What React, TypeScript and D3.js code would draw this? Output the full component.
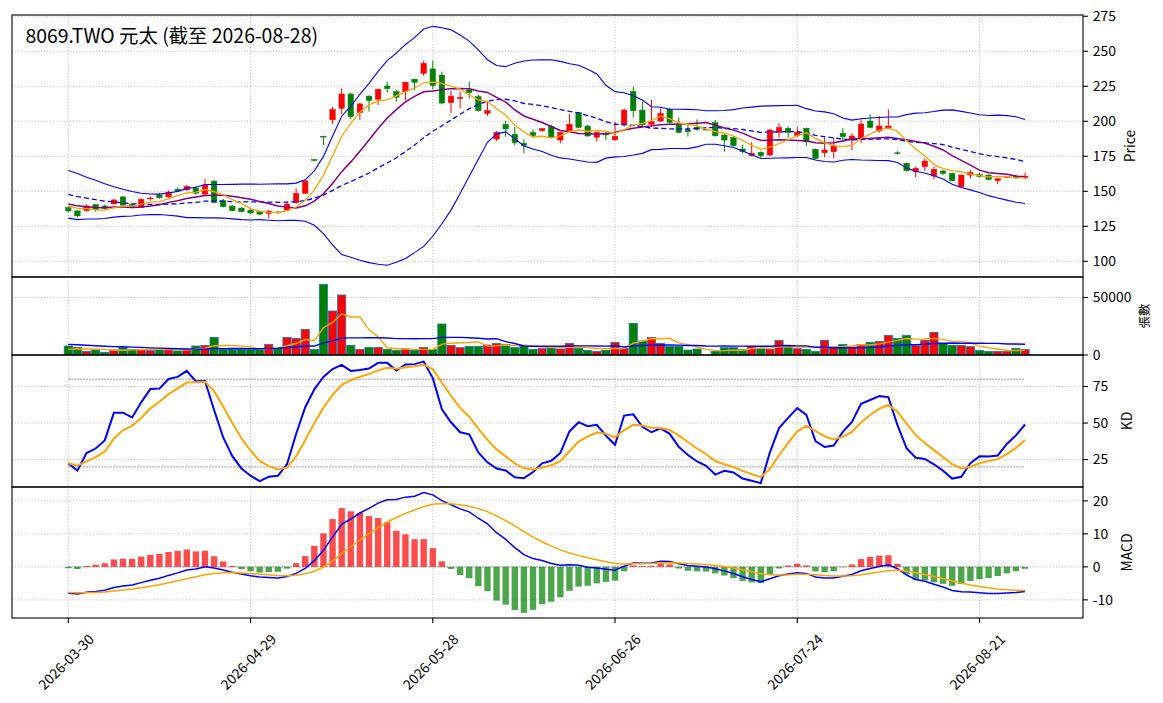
import React from "react";
import * as d3 from "d3";

// ---------- data ----------
const tickIndex = [0, 20, 40, 60, 80, 100];
const tickDates = ["2026-03-30", "2026-04-29", "2026-05-28", "2026-06-26", "2026-07-24", "2026-08-21"];

const opens = [
  138.3, 136.0, 136.2, 140.5, 139.5, 141.0, 146.0, 140.7, 138.5, 144.8,
  147.3, 146.0, 151.4, 151.0, 152.3, 148.0, 157.3, 143.3, 139.5, 138.0,
  136.5, 135.5, 134.3, 135.2, 136.6, 142.0, 148.6, 172.6, 189.3, 201.0,
  209.3, 219.5, 206.2, 218.0, 215.7, 225.2, 221.2, 221.2, 230.0, 234.3,
  237.4, 233.0, 213.3, 216.3, 222.4, 217.6, 205.7, 187.3, 197.8, 190.7,
  184.3, 192.0, 193.3, 196.2, 186.6, 193.3, 206.2, 196.6, 188.6, 191.4,
  186.8, 197.4, 221.2, 208.0, 197.8, 200.2, 208.5, 197.8, 193.8, 195.7,
  194.3, 199.0, 190.2, 188.3, 180.2, 175.6, 177.8, 175.9, 192.1, 195.0,
  189.7, 195.0, 180.0, 177.6, 178.3, 191.4, 186.6, 187.8, 200.2, 193.1,
  195.0, 177.5, 170.0, 164.0, 167.6, 160.9, 164.5, 162.8, 153.3, 161.6,
  162.0, 161.6, 157.6, 160.2, 160.9, 159.7,
];
const highs = [
  139.5, 136.5, 140.7, 141.0, 140.5, 144.5, 146.5, 141.5, 145.2, 146.4,
  149.0, 150.5, 152.8, 154.5, 153.7, 158.8, 158.0, 144.7, 140.0, 138.8,
  138.3, 136.0, 136.5, 136.0, 142.6, 152.1, 158.1, 173.2, 189.8, 210.4,
  223.5, 220.5, 213.3, 218.5, 223.3, 228.3, 222.5, 228.3, 230.5, 243.3,
  243.3, 235.5, 221.6, 221.2, 228.3, 218.8, 214.0, 193.0, 200.5, 196.0,
  187.1, 194.2, 195.2, 197.4, 192.5, 205.2, 206.5, 197.5, 192.5, 192.5,
  199.5, 209.2, 224.7, 214.0, 215.2, 209.3, 209.7, 202.6, 197.4, 201.4,
  194.3, 201.0, 190.8, 189.5, 183.0, 185.0, 178.5, 194.5, 198.6, 196.2,
  196.2, 195.5, 180.5, 188.5, 188.5, 195.0, 191.4, 201.4, 205.0, 203.8,
  208.5, 178.5, 170.5, 167.6, 173.5, 167.6, 165.2, 163.5, 161.8, 165.2,
  163.3, 162.0, 159.5, 161.0, 161.9, 163.3,
];
const lows = [
  135.0, 131.3, 135.5, 135.4, 136.8, 140.5, 139.5, 138.0, 138.0, 143.3,
  144.7, 145.5, 149.5, 150.5, 147.6, 147.5, 141.5, 138.5, 135.8, 135.0,
  133.5, 133.0, 130.5, 134.0, 136.0, 141.0, 148.0, 171.8, 183.0, 198.0,
  205.2, 201.6, 201.0, 206.9, 211.6, 220.5, 214.0, 215.2, 222.4, 232.6,
  222.8, 212.0, 205.7, 209.3, 216.4, 206.9, 203.8, 186.0, 189.0, 183.0,
  177.1, 188.5, 192.5, 187.8, 184.3, 192.5, 195.0, 189.0, 185.5, 186.6,
  186.0, 196.2, 202.6, 196.0, 196.2, 199.5, 198.5, 191.5, 189.0, 193.0,
  194.3, 189.0, 178.3, 182.0, 177.1, 175.0, 174.0, 175.0, 188.3, 188.3,
  188.8, 182.4, 173.0, 174.3, 173.5, 185.4, 179.5, 184.7, 195.2, 191.9,
  194.5, 176.4, 164.2, 160.0, 164.7, 158.5, 161.6, 157.0, 153.0, 159.2,
  160.0, 158.0, 155.2, 159.8, 159.0, 158.5,
];
const closes = [
  136.0, 132.5, 139.5, 137.0, 137.8, 143.8, 140.0, 138.5, 144.2, 145.2,
  145.5, 149.5, 150.3, 153.5, 148.6, 154.5, 142.0, 139.0, 136.2, 135.5,
  134.5, 133.7, 135.9, 134.8, 140.9, 148.6, 157.4, 172.2, 189.0, 208.5,
  219.5, 203.3, 212.4, 214.8, 222.8, 223.3, 217.2, 227.8, 227.8, 241.4,
  225.6, 213.0, 218.0, 217.0, 220.5, 207.6, 207.6, 192.0, 194.5, 184.8,
  182.8, 189.8, 194.7, 188.6, 192.0, 197.8, 195.7, 189.5, 192.0, 190.2,
  189.3, 208.0, 207.6, 197.4, 199.7, 205.7, 199.3, 192.1, 192.6, 194.3,
  194.3, 189.7, 186.6, 182.6, 178.3, 177.1, 175.5, 193.8, 195.5, 192.2,
  192.1, 185.4, 173.5, 179.5, 182.4, 189.0, 189.5, 198.0, 195.7, 196.6,
  196.6, 177.0, 164.7, 166.4, 171.6, 165.7, 162.8, 157.6, 161.6, 163.5,
  160.5, 158.5, 159.0, 160.5, 159.5, 160.8,
];
const volumes = [
  7830, 6670, 3190, 4350, 2320, 4350, 6380, 4930, 4930, 3770,
  4930, 4930, 3480, 4930, 7830, 8410, 15360, 4930, 4930, 4930,
  4930, 4930, 9280, 5800, 15360, 14500, 22320, 4930, 61460, 38270,
  52180, 8410, 4930, 6670, 6670, 4930, 4060, 4930, 4060, 6670,
  4930, 26960, 8410, 6380, 7540, 7540, 8700, 10150, 9280, 6380,
  8410, 4930, 5510, 7250, 5220, 10150, 5800, 4060, 3190, 4060,
  11020, 5510, 27540, 12180, 15360, 10150, 7540, 7540, 4350, 5220,
  0, 3190, 6380, 6380, 4930, 7540, 5510, 4930, 12760, 6380,
  5510, 4930, 3190, 12760, 6960, 9280, 6960, 8990, 11020, 11890,
  17100, 14500, 17100, 8410, 12760, 19710, 10150, 8410, 8410, 7250,
  4060, 3190, 3190, 3190, 5800, 4930,
];

// history before the first plotted bar (warm-up for the moving windows)
const priorCloses = [164, 162, 159, 158, 156, 153, 151, 150, 148, 146, 146, 145, 143, 140.5, 137, 141.5, 140.5, 141, 139];
const priorHighs = [147, 146, 146.7, 146, 144.5, 144, 144, 142];
const priorLows = [143.5, 141.5, 139.5, 136.5, 139, 139, 139.5, 137.5];
const priorVolumes = [13500, 12000, 12500, 11000, 11500, 10000, 11000, 9000, 11500, 10000, 10500, 9000, 10000, 9500, 9950, 4000, 4600, 3900, 4320];

// indicator states at the first plotted bar
const seedEma12 = 142.5;
const seedEma26 = 150.5;
const seedDea = -7.8;
const seedK = 22.4;
const seedD = 22.5;

const priceTicks = [100, 125, 150, 175, 200, 225, 250, 275];
const volTicks = [0, 50000];
const kdTicks = [25, 50, 75];
const macdTicks = [-10, 0, 10, 20];
const kdRefLevels = [80, 20];

// ---------- layout ----------
const W = 1163;
const H = 703;
const X0 = 12;
const X1 = 1083;
const PRICE = [15, 277];
const VOL = [277, 355];
const KD = [355, 487];
const MACD = [487, 618];
const FONT = "'Noto Sans CJK TC', 'Noto Sans', sans-serif";
const GRID = { stroke: "#b0b0b0", strokeWidth: 0.8, strokeDasharray: "1.1 1.8" };

export default function App() {
  const n = closes.length;
  const idx = d3.range(n);

  const x = d3.scaleLinear().domain([-6.18, 111.36]).range([X0, X1]);
  const step = x(1) - x(0);
  const yP = d3.scaleLinear().domain([88.8, 275.9]).range([PRICE[1], PRICE[0]]);
  const yV = d3.scaleLinear().domain([0, 67830]).range([VOL[1], VOL[0]]);
  const yK = d3.scaleLinear().domain([6.2, 96.6]).range([KD[1], KD[0]]);
  const yM = d3.scaleLinear().domain([-15.5, 24.2]).range([MACD[1], MACD[0]]);

  // moving averages & bollinger
  const allC = [...priorCloses, ...closes];
  const off = priorCloses.length;
  const sma = (arr: number[], o: number, w: number) =>
    idx.map((i) => d3.mean(arr.slice(o + i - w + 1, o + i + 1)) as number);
  const ma5 = sma(allC, off, 5);
  const ma10 = sma(allC, off, 10);
  const ma20 = sma(allC, off, 20);
  const sd20 = idx.map((i) => d3.deviation(allC.slice(off + i - 19, off + i + 1)) as number);
  const bbU = ma20.map((m, i) => m + 2 * sd20[i]);
  const bbL = ma20.map((m, i) => m - 2 * sd20[i]);

  // volume MAs
  const allV = [...priorVolumes, ...volumes];
  const vOff = priorVolumes.length;
  const vma5 = sma(allV, vOff, 5);
  const vma20 = sma(allV, vOff, 20);

  // KD
  const allH = [...priorHighs, ...highs];
  const allL = [...priorLows, ...lows];
  const kOff = priorHighs.length;
  const K: number[] = [seedK];
  const D: number[] = [seedD];
  for (let i = 1; i < n; i++) {
    const hh = d3.max(allH.slice(kOff + i - 8, kOff + i + 1)) as number;
    const ll = d3.min(allL.slice(kOff + i - 8, kOff + i + 1)) as number;
    const rsv = hh === ll ? 50 : ((closes[i] - ll) / (hh - ll)) * 100;
    const k = (K[i - 1] * 2) / 3 + rsv / 3;
    K.push(k);
    D.push((D[i - 1] * 2) / 3 + k / 3);
  }

  // MACD
  let e12 = seedEma12;
  let e26 = seedEma26;
  let dea = seedDea;
  const DIF: number[] = [e12 - e26];
  const DEA: number[] = [dea];
  for (let i = 1; i < n; i++) {
    e12 += ((closes[i] - e12) * 2) / 13;
    e26 += ((closes[i] - e26) * 2) / 27;
    const dif = e12 - e26;
    dea += ((dif - dea) * 2) / 10;
    DIF.push(dif);
    DEA.push(dea);
  }
  const HIST = DIF.map((d, i) => 2 * (d - DEA[i]));

  const lineOf = (y: d3.ScaleLinear<number, number>) =>
    d3.line<number>().x((_, i) => x(i)).y((v) => y(v));

  const up = (i: number) => closes[i] > opens[i];

  const yGrid = (ticks: number[], y: d3.ScaleLinear<number, number>) =>
    ticks.map((t) => <line key={"g" + t} x1={X0} x2={X1} y1={y(t)} y2={y(t)} {...GRID} />);
  const xGrid = (top: number, bottom: number) =>
    tickIndex.map((t) => <line key={"xg" + t} x1={x(t)} x2={x(t)} y1={top} y2={bottom} {...GRID} />);
  const yAxis = (ticks: number[], y: d3.ScaleLinear<number, number>, fmt = (v: number) => String(v)) =>
    ticks.map((t) => (
      <g key={"ya" + t}>
        <line x1={X1} x2={X1 + 4.9} y1={y(t)} y2={y(t)} stroke="#000" strokeWidth={1.1} />
        <text x={X1 + 9.8} y={y(t)} dy="0.35em" fontSize={13.9} fontFamily={FONT} fill="#000">
          {fmt(t)}
        </text>
      </g>
    ));
  const frame = (r: number[]) => (
    <rect x={X0} y={r[0]} width={X1 - X0} height={r[1] - r[0]} fill="none" stroke="#000" strokeWidth={1.1} />
  );
  const ylabel = (txt: string, cx: number, r: number[], size = 13.9) => (
    <text
      transform={`translate(${cx},${(r[0] + r[1]) / 2}) rotate(-90)`}
      textAnchor="middle"
      dy="0.35em"
      fontSize={size}
      fontFamily={FONT}
      fill="#000"
    >
      {txt}
    </text>
  );

  const bodyW = step * 0.6;
  const volW = step * 0.9;
  const histW = step * 0.7;

  return (
    <svg width={W} height={H} style={{ position: "absolute", left: 0, top: 0, background: "#fff" }}>
      <defs>
        {[PRICE, VOL, KD, MACD].map((r, k) => (
          <clipPath id={"clip" + k} key={k}>
            <rect x={X0} y={r[0]} width={X1 - X0} height={r[1] - r[0]} />
          </clipPath>
        ))}
      </defs>
      <rect x={0} y={0} width={W} height={H} fill="#fff" />

      {/* ---------- price panel ---------- */}
      <g>
        {yGrid(priceTicks, yP)}
        {xGrid(PRICE[0], PRICE[1])}
        <g clipPath="url(#clip0)">
          {idx.map((i) => {
            const c = up(i) ? "#ff0000" : "#008000";
            const top = yP(Math.max(opens[i], closes[i]));
            const bot = yP(Math.min(opens[i], closes[i]));
            return (
              <g key={"c" + i}>
                <line x1={x(i)} x2={x(i)} y1={yP(highs[i])} y2={yP(lows[i])} stroke={c} strokeWidth={1} />
                <rect x={x(i) - bodyW / 2} y={top} width={bodyW} height={Math.max(bot - top, 0.8)} fill={c} stroke={c} strokeWidth={0.5} />
              </g>
            );
          })}
          <path d={lineOf(yP)(bbU) as string} fill="none" stroke="#0000ff" strokeWidth={1.1} />
          <path d={lineOf(yP)(bbL) as string} fill="none" stroke="#0000ff" strokeWidth={1.1} />
          <path d={lineOf(yP)(ma20) as string} fill="none" stroke="#0000ff" strokeWidth={1.3} strokeDasharray="5 3" />
          <path d={lineOf(yP)(ma10) as string} fill="none" stroke="#800080" strokeWidth={1.5} />
          <path d={lineOf(yP)(ma5) as string} fill="none" stroke="#ffa500" strokeWidth={1.3} />
        </g>
        <text x={25.5} y={43} fontSize={19.4} fontFamily={FONT} fill="#000">
          8069.TWO 元太 (截至 2026-08-28)
        </text>
        {frame(PRICE)}
        {yAxis(priceTicks, yP)}
        {ylabel("Price", 1130, PRICE)}
      </g>

      {/* ---------- volume panel ---------- */}
      <g>
        {yGrid(volTicks, yV)}
        {xGrid(VOL[0], VOL[1])}
        <g clipPath="url(#clip1)">
          {idx.map((i) =>
            volumes[i] > 0 ? (
              <rect
                key={"v" + i}
                x={x(i) - volW / 2}
                y={yV(volumes[i])}
                width={volW}
                height={yV(0) - yV(volumes[i])}
                fill={up(i) ? "#ff0000" : "#008000"}
                stroke="#1f77b4"
                strokeWidth={0.8}
              />
            ) : null
          )}
          <path d={lineOf(yV)(vma5) as string} fill="none" stroke="#ffa500" strokeWidth={1.4} />
          <path d={lineOf(yV)(vma20) as string} fill="none" stroke="#0000ff" strokeWidth={1.4} />
        </g>
        {frame(VOL)}
        {yAxis(volTicks, yV)}
        {ylabel("張數", 1145, VOL, 12.5)}
      </g>

      {/* ---------- KD panel ---------- */}
      <g>
        {yGrid(kdTicks, yK)}
        {xGrid(KD[0], KD[1])}
        <g clipPath="url(#clip2)">
          {kdRefLevels.map((lv) => (
            <line key={"r" + lv} x1={x(0)} x2={x(n - 1)} y1={yK(lv)} y2={yK(lv)} stroke="#808080" strokeWidth={1} strokeDasharray="1.5 1.5" />
          ))}
          <path d={lineOf(yK)(K) as string} fill="none" stroke="#0000ff" strokeWidth={2} />
          <path d={lineOf(yK)(D) as string} fill="none" stroke="#ffa500" strokeWidth={2} />
        </g>
        {frame(KD)}
        {yAxis(kdTicks, yK)}
        {ylabel("KD", 1127, KD)}
      </g>

      {/* ---------- MACD panel ---------- */}
      <g>
        {yGrid(macdTicks, yM)}
        {xGrid(MACD[0], MACD[1])}
        <g clipPath="url(#clip3)">
          <line x1={x(0)} x2={x(n - 1)} y1={yM(0)} y2={yM(0)} stroke="#808080" strokeWidth={1} strokeDasharray="1.5 1.5" />
          {idx.map((i) => (
            <rect
              key={"h" + i}
              x={x(i) - histW / 2}
              y={yM(Math.max(HIST[i], 0))}
              width={histW}
              height={Math.abs(yM(HIST[i]) - yM(0))}
              fill={HIST[i] >= 0 ? "#ff0000" : "#008000"}
              fillOpacity={0.7}
            />
          ))}
          <path d={lineOf(yM)(DIF) as string} fill="none" stroke="#0000ff" strokeWidth={1.5} />
          <path d={lineOf(yM)(DEA) as string} fill="none" stroke="#ffa500" strokeWidth={1.5} />
        </g>
        {frame(MACD)}
        {yAxis(macdTicks, yM)}
        {ylabel("MACD", 1127, MACD)}
      </g>

      {/* ---------- x axis ---------- */}
      {tickIndex.map((t, k) => (
        <g key={"xt" + t}>
          <line x1={x(t)} x2={x(t)} y1={MACD[1]} y2={MACD[1] + 4.9} stroke="#000" strokeWidth={1.1} />
          <text
            transform={`translate(${x(t) - 2},${MACD[1] + 44}) rotate(-45)`}
            textAnchor="middle"
            dy="0.35em"
            fontSize={13.9}
            fontFamily={FONT}
            fill="#000"
          >
            {tickDates[k]}
          </text>
        </g>
      ))}
    </svg>
  );
}
